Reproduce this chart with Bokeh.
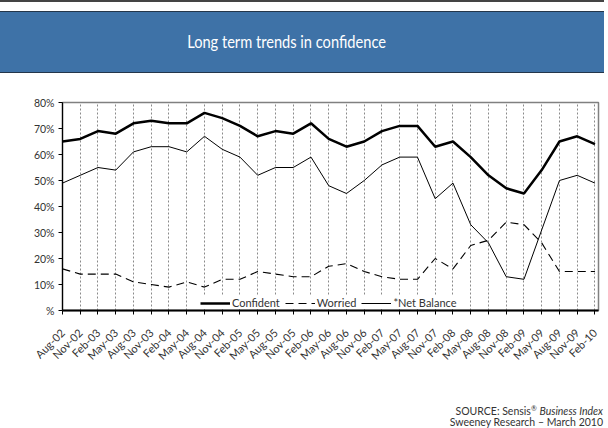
from math import pi
from bokeh.plotting import figure
from bokeh.models import (Range1d, FixedTicker, Legend, LegendItem, Div,
                          ColumnDataSource)
from bokeh.layouts import column
from bokeh.embed import file_html
from bokeh.resources import INLINE

# ---------------- data ----------------
periods = ["Aug-02", "Nov-02", "Feb-03", "May-03", "Aug-03", "Nov-03", "Feb-04",
           "May-04", "Aug-04", "Nov-04", "Feb-05", "May-05", "Aug-05", "Nov-05",
           "Feb-06", "May-06", "Aug-06", "Nov-06", "Feb-07", "May-07", "Aug-07",
           "Nov-07", "Feb-08", "May-08", "Aug-08", "Nov-08", "Feb-09", "May-09",
           "Aug-09", "Nov-09", "Feb-10"]
confident = [65, 66, 69, 68, 72, 73, 72, 72, 76, 74, 71, 67, 69, 68, 72, 66, 63,
             65, 69, 71, 71, 63, 65, 59, 52, 47, 45, 54, 65, 67, 64]
worried = [16, 14, 14, 14, 11, 10, 9, 11, 9, 12, 12, 15, 14, 13, 13, 17, 18,
           15, 13, 12, 12, 20, 16, 25, 27, 34, 33, 26, 15, 15, 15]
net_balance = [49, 52, 55, 54, 61, 63, 63, 61, 67, 62, 59, 52, 55, 55, 59, 48,
               45, 50, 56, 59, 59, 43, 49, 33, 26, 13, 12, 31, 50, 52, 49]
y_ticks = [0, 10, 20, 30, 40, 50, 60, 70, 80]
y_tick_labels = ["%", "10%", "20%", "30%", "40%", "50%", "60%", "70%", "80%"]
title_text = "Long term trends in confidence"
series_names = ["Confident", "Worried", "*Net Balance"]
source_line1a = "SOURCE: Sensis"
source_line1b = "Business Index"
source_line2 = "Sweeney Research \u2013 March 2010"

FONT = "Lato"
BLUE = "#3E72A7"
TXT = "#333333"
W = 604

# ---------------- header bar ----------------
hdr_html = (
    f'<div style="position:relative;width:{W}px;height:74px;margin:0;">'
    f'<div style="position:absolute;left:0;top:0;width:{W}px;height:2px;background:#444;"></div>'
    f'<div style="position:absolute;left:0;top:11px;width:{W}px;height:62px;'
    f'box-sizing:border-box;background:{BLUE};border-top:1.5px solid #23364a;'
    f'border-bottom:1.5px solid #23364a;display:flex;align-items:center;'
    f'justify-content:center;padding-right:30px;">'
    f'<span style="display:inline-block;transform:scaleX(0.86);color:white;'
    f'font-family:{FONT};font-size:17px;white-space:nowrap;">{title_text}</span>'
    f'</div></div>'
)
hdr = Div(text=hdr_html, width=W, height=74, margin=0)

# ---------------- main chart ----------------
idx = list(range(len(periods)))
src = ColumnDataSource(dict(x=idx, confident=confident, worried=worried,
                            net=net_balance))

p = figure(width=W, height=320, x_range=Range1d(0, 30.2), y_range=Range1d(0, 80),
           output_backend="svg", toolbar_location=None,
           min_border_left=62, min_border_right=6, min_border_top=28,
           min_border_bottom=84, margin=0)
p.outline_line_color = "#808080"
p.outline_line_width = 1.5
p.background_fill_color = "white"
p.border_fill_color = "white"

r_conf = p.line("x", "confident", source=src, line_color="black", line_width=2.5)
r_wor = p.line("x", "worried", source=src, line_color="black", line_width=1.1,
               line_dash="8 5")
r_net = p.line("x", "net", source=src, line_color="black", line_width=1)

p.xaxis.ticker = FixedTicker(ticks=idx)
p.xaxis.major_label_overrides = {i: s for i, s in zip(idx, periods)}
p.xaxis.major_label_orientation = pi / 4
p.xaxis.axis_line_width = 2
p.xaxis.axis_line_color = "black"
p.xaxis.major_tick_in = 0
p.xaxis.major_tick_out = 4
p.xaxis.minor_tick_line_color = None
p.xaxis.major_label_standoff = 16
p.xaxis.major_label_text_font = FONT
p.xaxis.major_label_text_font_size = "11px"
p.xaxis.major_label_text_color = TXT

p.yaxis.ticker = FixedTicker(ticks=y_ticks)
p.yaxis.major_label_overrides = {t: s for t, s in zip(y_ticks, y_tick_labels)}
p.yaxis.axis_line_color = "black"
p.yaxis.axis_line_width = 1.2
p.yaxis.major_tick_in = 0
p.yaxis.major_tick_out = 4
p.yaxis.minor_tick_line_color = None
p.yaxis.major_label_standoff = 4
p.yaxis.major_label_text_font = FONT
p.yaxis.major_label_text_font_size = "10.5px"
p.yaxis.major_label_text_color = TXT

p.xgrid.ticker = FixedTicker(ticks=idx)
p.xgrid.grid_line_color = "#8a8a8a"
p.xgrid.grid_line_dash = "2 2"
p.xgrid.grid_line_width = 1
p.ygrid.grid_line_color = None

legend = Legend(items=[LegendItem(label=series_names[0], renderers=[r_conf]),
                       LegendItem(label=series_names[1], renderers=[r_wor]),
                       LegendItem(label=series_names[2], renderers=[r_net])],
                orientation="horizontal", location=(138, 1),
                glyph_width=30, glyph_height=10, label_standoff=2, spacing=5,
                padding=2, margin=0, border_line_color=None,
                background_fill_color="white", background_fill_alpha=1,
                label_text_font=FONT, label_text_font_size="11px",
                label_text_color=TXT, label_height=12)
p.add_layout(legend)

# ---------------- footer ----------------
ft_html = (
    f'<div style="width:{W}px;height:32px;box-sizing:border-box;padding:12px 1px 0 0;'
    f'margin:0;text-align:right;font-family:{FONT};font-size:10.5px;line-height:10.5px;'
    f'color:{TXT};white-space:nowrap;">'
    f'{source_line1a}<sup style="font-size:7px;line-height:0;">\u00ae</sup> '
    f'<i>{source_line1b}</i><br>{source_line2}</div>'
)
ft = Div(text=ft_html, width=W, height=32, margin=0)

layout = column(hdr, p, ft, spacing=0)
open("out.html", "w").write(file_html(layout, INLINE))
